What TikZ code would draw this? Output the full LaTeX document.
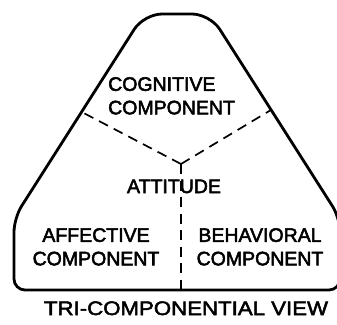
\documentclass[tikz,border=0pt]{standalone}
\usepackage{fontspec}
\setmainfont[FakeBold=2.6]{Liberation Sans}
\newfontfamily\titlefont[FakeStretch=1.14, FakeBold=2.6]{Liberation Sans}
\usetikzlibrary{calc}

\begin{document}
\begin{tikzpicture}[x=1pt, y=-1pt,
  outline/.style={line width=2.8pt, line join=round},
  divider/.style={line width=1.7pt, dash pattern=on 10pt off 6.5pt},
  lbl/.style={inner sep=0pt, font=\fontsize{19.5}{23.5}\selectfont, align=center}
]
\useasboundingbox (0,0) rectangle (337,324);
\clip (0,0) rectangle (337,324);

% corners of the rounded triangle (right side runs off the page)
\coordinate (botL)  at (14,290);
\coordinate (sideL) at (14,218);
\coordinate (topL)  at (144,14);
\coordinate (topR)  at (210,14);
\coordinate (sideR) at (340,218);
\coordinate (botR)  at (340,290);

\draw[outline] ($(botL)!0.5!(botR)$) [rounded corners=11pt] -- (botL)
  [rounded corners=14pt] -- (sideL) [rounded corners=18pt] -- (topL) -- (topR)
  [rounded corners=14pt] -- (sideR) [rounded corners=11pt] -- (botR) -- cycle;

% the three dividers meet in the middle
\coordinate (hub)   at (181,164);
\coordinate (cutL)  at ($(sideL)!0.52!(topL)$);
\coordinate (cutR)  at ($(sideR)!0.53!(topR)$);
\coordinate (cutB)  at (181,290);

\draw[divider] (hub) -- (cutL);
\draw[divider] (hub) -- (cutR);
\draw[divider] (hub) -- (cutB);

\node[lbl, anchor=north west, align=left] (cog) at (108,77) {COGNITIVE\\COMPONENT};
\node[lbl, anchor=base] (att) at (174,193) {ATTITUDE};
\node[lbl, anchor=north] (aff) at (96,228) {AFFECTIVE\\COMPONENT};
\node[lbl, anchor=north] (beh) at (260,228) {BEHAVIORAL\\COMPONENT};

\node[lbl, anchor=base, font=\titlefont\fontsize{19.5}{22}\selectfont] (title) at (186,315) {TRI-COMPONENTIAL VIEW};

\end{tikzpicture}
\end{document}
